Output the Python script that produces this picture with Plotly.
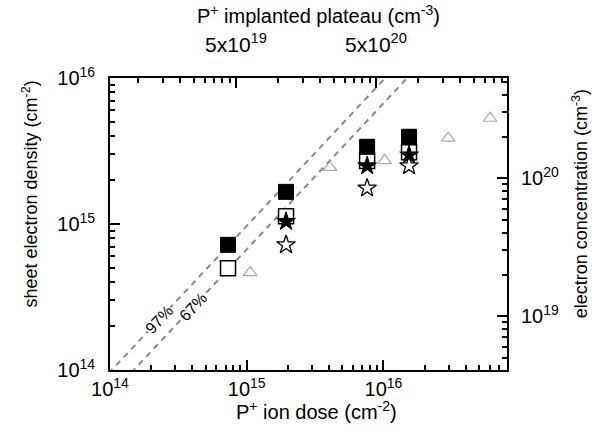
import plotly.graph_objects as go
import numpy as np

# ---------------- data ----------------
dose = [7.3e14, 1.94e15, 7.6e15, 1.54e16]
filled_sq = [7.2e14, 1.66e15, 3.38e15, 3.96e15]
open_sq = [4.98e14, 1.13e15, 2.7e15, 3.1e15]

star_dose = [1.94e15, 7.6e15, 1.54e16]
filled_star = [1.04e15, 2.5e15, 2.97e15]
open_star = [7.2e14, 1.76e15, 2.5e15]

tri_dose = [1.06e15, 4.06e15, 1.02e16, 2.98e16, 6.03e16]
tri_n = [4.65e14, 2.44e15, 2.72e15, 3.87e15, 5.3e15]

efficiency = [0.97, 0.67]
eff_labels = ["97%", "67%"]
eff_label_logdose = [14.36, 14.61]
line_dose = [1e13, 1e17]

bottom_ticks = [1e14, 1e15, 1e16]
left_ticks = [1e14, 1e15, 1e16]
right_ticks = [1e19, 1e20]
top_ticks = [5e19, 5e20]
top_ticktext = ["5x10<sup>19</sup>", "5x10<sup>20</sup>"]

FONT = "Liberation Sans, Arial, sans-serif"

def sup(v):
    return "10<sup>%d</sup>" % round(np.log10(v))

def minor_log(lo, hi, base=1.0):
    out = []
    for e in range(lo, hi + 1):
        for m in range(2, 10):
            out.append(base * m * 10.0 ** e)
    return out

fig = go.Figure()

# efficiency lines
for eff in efficiency:
    fig.add_trace(go.Scatter(x=line_dose, y=[eff * d for d in line_dose], mode="lines",
                             line=dict(color="#8a8a8a", width=2, dash="6px,5px"),
                             hoverinfo="skip"))

fig.add_trace(go.Scatter(x=tri_dose, y=tri_n, mode="markers",
                         marker=dict(symbol="triangle-up-open", size=12, color="#a8a8a8",
                                     line=dict(width=1.2, color="#a8a8a8"))))
fig.add_trace(go.Scatter(x=dose, y=open_sq, mode="markers",
                         marker=dict(symbol="square", size=15, color="white",
                                     line=dict(width=1.5, color="black"))))
fig.add_trace(go.Scatter(x=dose, y=filled_sq, mode="markers",
                         marker=dict(symbol="square", size=15, color="black",
                                     line=dict(width=1, color="black"))))
fig.add_trace(go.Scatter(x=star_dose, y=open_star, mode="markers",
                         marker=dict(symbol="star", size=14, color="white",
                                     line=dict(width=1.3, color="black"))))
fig.add_trace(go.Scatter(x=star_dose, y=filled_star, mode="markers",
                         marker=dict(symbol="star", size=14, color="black",
                                     line=dict(width=1, color="black"))))
# dummy trace for secondary axes
fig.add_trace(go.Scatter(x=[], y=[], xaxis="x2", yaxis="y2", mode="markers"))

for eff, lab, ld in zip(efficiency, eff_labels, eff_label_logdose):
    fig.add_annotation(x=ld, y=ld + np.log10(eff), xref="x", yref="y", text=lab,
                       showarrow=False, textangle=-47, bgcolor="white", borderpad=0,
                       font=dict(family=FONT, size=16, color="black"))

axis_common = dict(type="log", showline=True, linecolor="black", linewidth=1.8,
                   ticks="inside", tickcolor="black", tickwidth=1.5, ticklen=10,
                   showgrid=False, zeroline=False,
                   tickfont=dict(family=FONT, size=20, color="black"))

fig.update_layout(
    width=592, height=440,
    margin=dict(l=110, r=85, t=78, b=70),
    paper_bgcolor="white", plot_bgcolor="white",
    showlegend=False,
    xaxis=dict(axis_common, range=[14, 16.904], tickmode="array",
               tickvals=bottom_ticks, ticktext=[sup(v) for v in bottom_ticks],
               ticklabelstandoff=0,
               minor=dict(tickmode="array", tickvals=minor_log(14, 16), ticks="inside",
                          ticklen=5, tickwidth=1.5, tickcolor="black")),
    yaxis=dict(axis_common, range=[14, 16], tickmode="array",
               tickvals=left_ticks, ticktext=[sup(v) for v in left_ticks],
               ticklabelstandoff=9,
               minor=dict(tickmode="array", tickvals=minor_log(14, 15), ticks="inside",
                          ticklen=5, tickwidth=1.5, tickcolor="black")),
    xaxis2=dict(axis_common, overlaying="x", side="top", anchor="y",
                range=[18.799, 21.635], tickmode="array",
                tickvals=top_ticks, ticktext=top_ticktext, ticklabelstandoff=16,
                tickfont=dict(family=FONT, size=21, color="black"),
                minor=dict(tickmode="array", tickvals=minor_log(18, 20, base=5.0),
                           ticks="inside", ticklen=5, tickwidth=1.5, tickcolor="black")),
    yaxis2=dict(axis_common, overlaying="y", side="right", anchor="x",
                range=[18.609, 20.725], tickmode="array",
                tickvals=right_ticks, ticktext=[sup(v) for v in right_ticks],
                ticklabelstandoff=8,
                minor=dict(tickmode="array", tickvals=minor_log(18, 20), ticks="inside",
                           ticklen=5, tickwidth=1.5, tickcolor="black")),
)

titles = [
    ("P<sup>+</sup> ion dose (cm<sup>-2</sup>)", 0.521, -0.137, 0, 20),
    ("P<sup>+</sup> implanted plateau (cm<sup>-3</sup>)", 0.526, 1.218, 0, 20),
    ("sheet electron density (cm<sup>-2</sup>)", -0.2, 0.603, -90, 18),
    ("electron concentration (cm<sup>-3</sup>)", 1.184, 0.568, -90, 18),
]
for text, x, y, ang, fs in titles:
    fig.add_annotation(text=text, x=x, y=y, xref="paper", yref="paper", showarrow=False,
                       textangle=ang, xanchor="center", yanchor="middle",
                       font=dict(family=FONT, size=fs, color="black"))

fig.write_html("out.html")
